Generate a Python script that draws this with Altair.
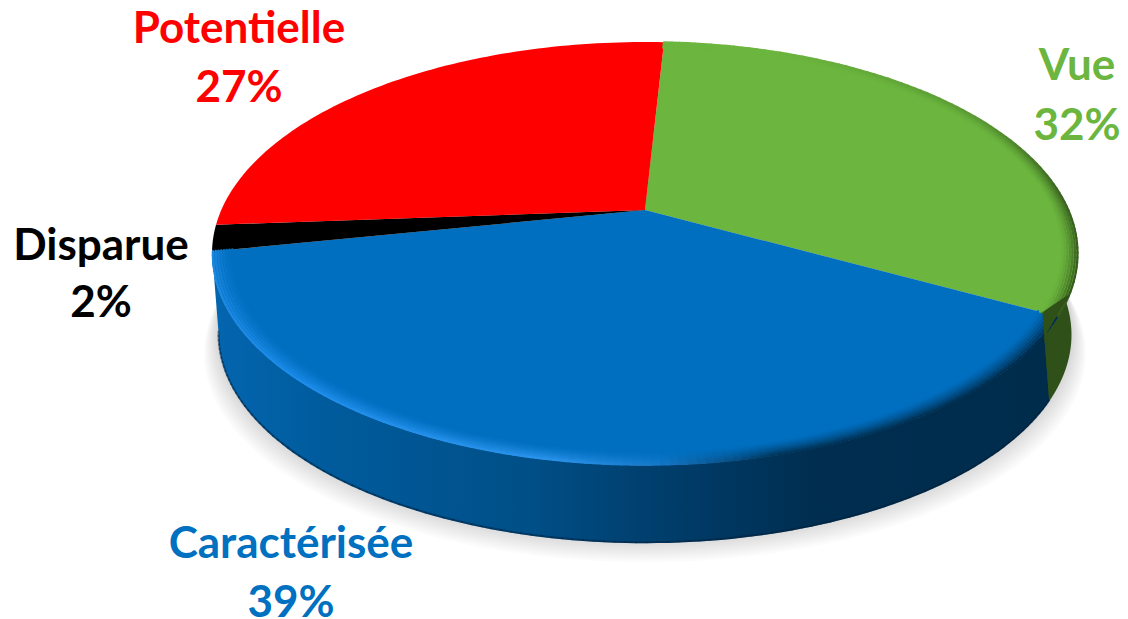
import math
import altair as alt
import pandas as pd

# --- chart values ---
categories = ["Vue", "Caractérisée", "Disparue", "Potentielle"]
shares = [32, 39, 2, 27]
label_colors = ["#6CB53F", "#0070C0", "#000000", "#FF0000"]
face_colors = ["#6CB63F", "#006FC0", "#000000", "#FF0000"]

# --- pie geometry (perspective projection of a disc) ---
CX, CY, A, B, Q = 645.0, 210.0, 423.7, 202.6, 0.206
START = 3.1
DS, DY = 0.985, 85.0


def top(deg, r=1.0):
    t = math.radians(deg)
    u, v = r * math.sin(t), -r * math.cos(t)
    d = 1 - Q * v
    return CX + A * u / d, CY + B * v / d


def low(deg):
    x, y = top(deg)
    return CX + (x - CX) * DS, y * DS + DY


def frange(a, b, n):
    return [a + (b - a) * i / n for i in range(n + 1)]


def hex2(c):
    return [int(c[i:i + 2], 16) for i in (1, 3, 5)]


def mix(c1, c2, t):
    a, b = hex2(c1), hex2(c2)
    return "#%02x%02x%02x" % tuple(round(p + (q - p) * t) for p, q in zip(a, b))


def ramp(stops, x):
    if x <= stops[0][0]:
        return stops[0][1]
    for (a, ca), (b, cb) in zip(stops, stops[1:]):
        if x <= b:
            return mix(ca, cb, (x - a) / (b - a))
    return stops[-1][1]


X = alt.Scale(domain=[8, 1120], nice=False, zero=False)
Y = alt.Scale(domain=[619, 8], nice=False, zero=False)


def poly(points, fill, opacity=1.0):
    df = pd.DataFrame([{"x": x, "y": y, "i": i} for i, (x, y) in enumerate(points)])
    return (
        alt.Chart(df)
        .mark_line(fill=fill, stroke="transparent", strokeWidth=0, fillOpacity=opacity)
        .encode(
            x=alt.X("x:Q", scale=X, axis=None),
            y=alt.Y("y:Q", scale=Y, axis=None),
            order=alt.Order("i:Q"),
        )
    )


def segments(rows, width, opacity=1.0):
    return (
        alt.Chart(pd.DataFrame(rows))
        .mark_rule(strokeWidth=width, strokeCap="round", opacity=opacity)
        .encode(
            x=alt.X("x:Q", scale=X, axis=None),
            y=alt.Y("y:Q", scale=Y, axis=None),
            x2="x2:Q",
            y2="y2:Q",
            color=alt.Color("c:N", scale=None),
        )
    )


# slice angle limits from the shares
angles = [START]
for s in shares:
    angles.append(angles[-1] + s * 3.6)

layers = []

# soft shadow
bottom_ring = [low(d) for d in frange(0, 360, 180)]
for k in range(10, 0, -1):
    sc = 1 + 0.0034 * k
    layers.append(
        poly([(CX + (x - CX) * sc, y + 2.3 * k - 4) for x, y in bottom_ring], "#000000", 0.016)
    )

# side walls
a_green_side = 72.0
a_split = angles[1] + 1.2
green_side = [top(d) for d in frange(a_green_side, a_split + 10, 40)] + [
    low(d) for d in frange(a_split, a_green_side, 40)
]
layers.append(poly(green_side, "#2F5018"))

blue_side = [top(angles[1], 0.965)] + [top(d) for d in frange(angles[1] + 3, angles[2], 120)] + [
    low(d) for d in frange(angles[2], a_split, 120)
]
blue_gradient = alt.LinearGradient(
    gradient="linear",
    x1=0, x2=1, y1=0, y2=0,
    stops=[
        alt.GradientStop(color="#0466B0", offset=0.0),
        alt.GradientStop(color="#005C9E", offset=0.12),
        alt.GradientStop(color="#004F87", offset=0.38),
        alt.GradientStop(color="#003F6E", offset=0.52),
        alt.GradientStop(color="#002E50", offset=0.72),
        alt.GradientStop(color="#002C4C", offset=1.0),
    ],
)
layers.append(poly(blue_side, blue_gradient))

# darker lower lip of the blue wall
lip = []
ds = frange(a_split, angles[2], 120)
for a, b in zip(ds, ds[1:]):
    (x1, y1), (x2, y2) = low(a), low(b)
    lip.append({"x": x1, "y": y1 - 1, "x2": x2, "y2": y2 - 1, "c": "#001F3A"})
layers.append(segments(lip, 2, 0.45))

# top faces
for i, col in enumerate(face_colors):
    pts = [(CX, CY)] + [top(d) for d in frange(angles[i], angles[i + 1], 80)]
    layers.append(poly(pts, col))

# bevel on the rim of the blue face
blue_edge = [
    (118.0, "#002C4C"),
    (165.0, "#00365C"),
    (178.0, "#1478C8"),
    (190.0, "#2A92EA"),
    (225.0, "#1C8CEA"),
    (262.0, "#1B86DC"),
]
rows = []
bands = frange(0.955, 0.998, 7)
ds = frange(angles[1], angles[2], 140)
for n, r in enumerate(bands):
    t = (n / (len(bands) - 1)) ** 1.4
    for a, b in zip(ds, ds[1:]):
        (x1, y1), (x2, y2) = top(a, r), top(b, r)
        rows.append({"x": x1, "y": y1, "x2": x2, "y2": y2, "c": mix("#006FC0", ramp(blue_edge, a), t)})
layers.append(segments(rows, 2.4))

# bevel on the rim of the green face
green_edge = [
    (20.0, "#6CB63F"),
    (60.0, "#5A9A34"),
    (85.0, "#3B6420"),
    (118.0, "#35591C"),
]
rows = []
bands = frange(0.96, 0.999, 7)
ds = frange(angles[0], angles[1], 90)
for n, r in enumerate(bands):
    t = (n / (len(bands) - 1)) ** 1.5
    for a, b in zip(ds, ds[1:]):
        (x1, y1), (x2, y2) = top(a, r), top(b, r)
        rows.append({"x": x1, "y": y1, "x2": x2, "y2": y2, "c": mix("#6CB63F", ramp(green_edge, a), t)})
layers.append(segments(rows, 2.2))

# outer corner where the green wall meets the blue one
layers.append(poly([top(angles[1], 0.965), top(angles[1] - 2, 0.975), top(angles[1] - 6, 1.0),
                    top(angles[1] + 4, 1.0), low(a_split)], "#2F5018"))

# labels: name and percentage on two lines
anchors = [(1077, 80, 140), (291, 558, 617), (101, 260, 317), (239, 43, 102)]
text_rows = []
for name, s, col, (ax, y1, y2) in zip(categories, shares, label_colors, anchors):
    text_rows.append({"x": ax, "y": y1, "t": name, "c": col})
    text_rows.append({"x": ax, "y": y2, "t": f"{s}%", "c": col})
layers.append(
    alt.Chart(pd.DataFrame(text_rows))
    .mark_text(font="Lato", fontWeight="bold", fontSize=44, align="center", baseline="alphabetic")
    .encode(
        x=alt.X("x:Q", scale=X, axis=None),
        y=alt.Y("y:Q", scale=Y, axis=None),
        text="t:N",
        color=alt.Color("c:N", scale=None),
    )
)

chart = (
    alt.layer(*layers)
    .properties(width=1112, height=611, padding=0, autosize=alt.AutoSizeParams(type="none"))
    .configure_view(stroke=None)
)
chart.save("out.html", embed_options={"renderer": "svg", "actions": False})
